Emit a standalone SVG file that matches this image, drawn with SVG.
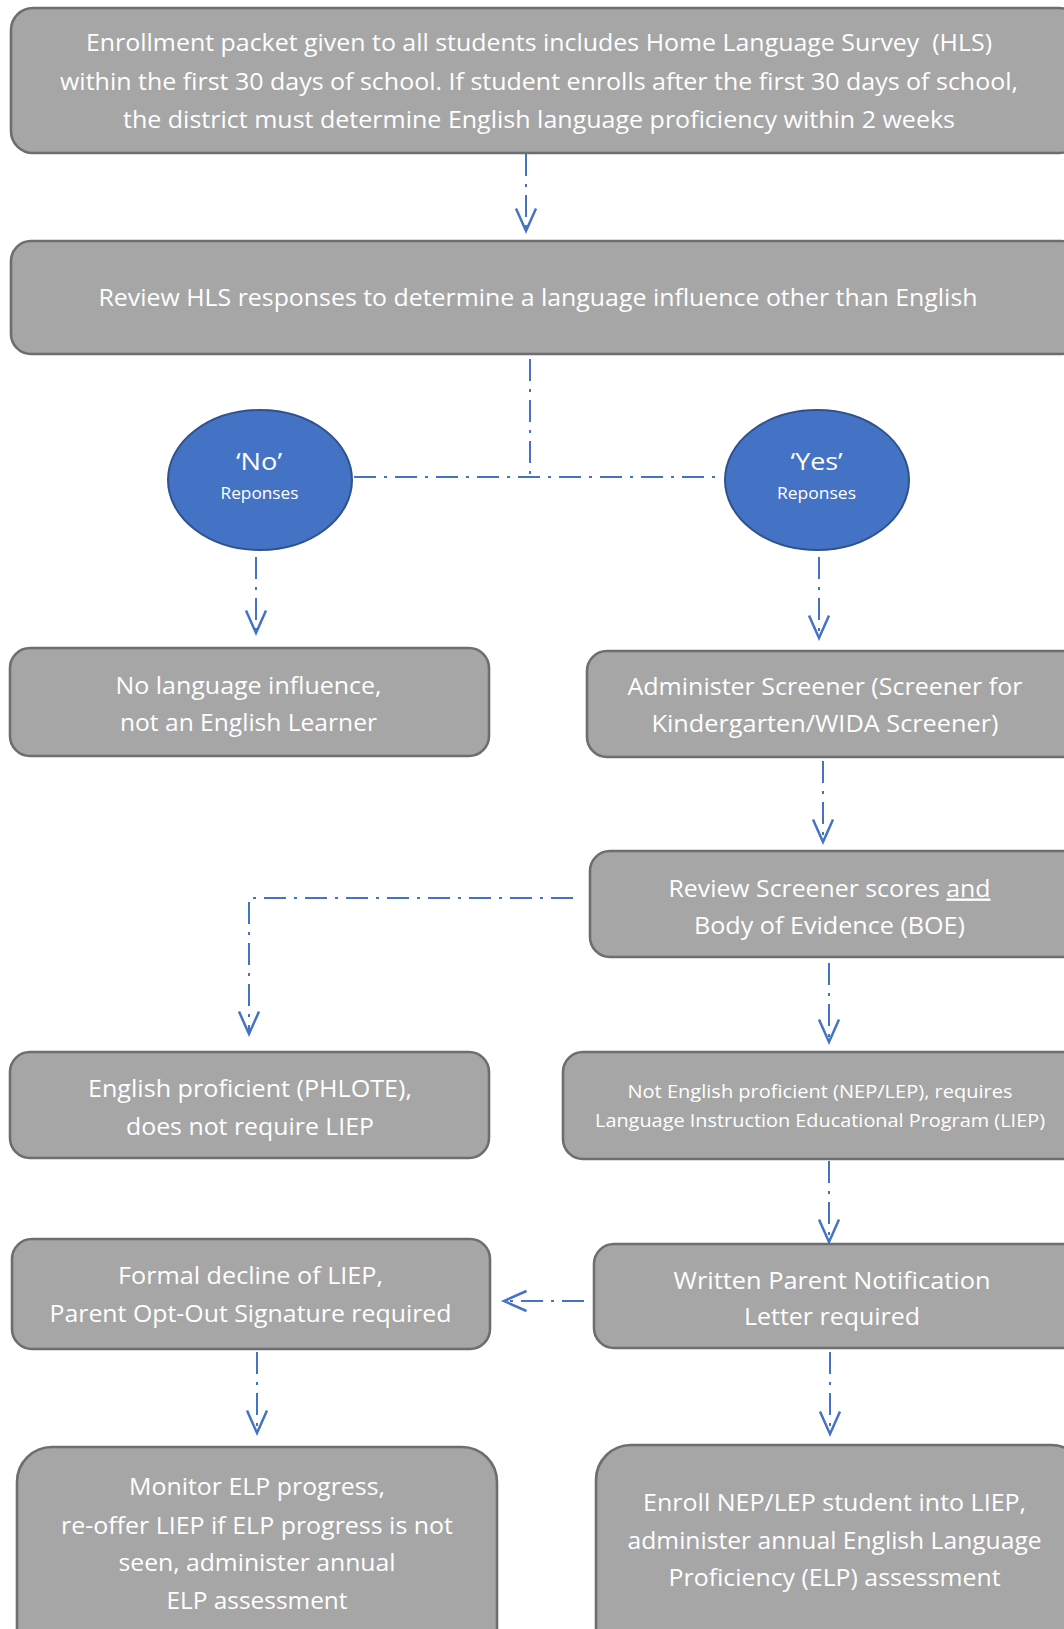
<svg xmlns="http://www.w3.org/2000/svg" width="1064" height="1629" viewBox="0 0 1064 1629">
<style>
.box{fill:#a6a6a6;stroke:#6e6e6e;stroke-width:2.6}
.ell{fill:#4472c4;stroke:#2f528f;stroke-width:2}
.t{font-family:"Open Sans","Liberation Sans",sans-serif;font-size:23.5px;fill:#ffffff;text-anchor:middle}
.s{font-size:19px}
.r{font-size:16.5px}
.c{fill:none;stroke:#4472c4;stroke-width:2;stroke-dasharray:22 8 3 8}
</style>
<defs>
<marker id="ah" markerUnits="userSpaceOnUse" markerWidth="30" markerHeight="30" viewBox="-20 -12 24 24" refX="0" refY="0" orient="auto">
<path d="M-18,-8 L0,0 L-18,8" fill="none" stroke="#4472c4" stroke-width="2"/>
</marker>
</defs>
<g id="connectors">
<path class="c" d="M526,154 V231" marker-end="url(#ah)"/>
<path class="c" d="M530,359 V477"/>
<path class="c" d="M354,477 H722"/>
<path class="c" d="M256,557 V633" marker-end="url(#ah)"/>
<path class="c" d="M819,557 V638" marker-end="url(#ah)"/>
<path class="c" d="M823,761 V842" marker-end="url(#ah)"/>
<path class="c" d="M573,898 H249 V1034" marker-end="url(#ah)"/>
<path class="c" d="M829,963 V1042" marker-end="url(#ah)"/>
<path class="c" d="M829,1161 V1242" marker-end="url(#ah)"/>
<path class="c" d="M584,1301 H504" marker-end="url(#ah)"/>
<path class="c" d="M257,1352 V1433" marker-end="url(#ah)"/>
<path class="c" d="M830,1352 V1434" marker-end="url(#ah)"/>
</g>
<g id="enrollment">
<rect class="box" x="11" y="8" width="1070" height="145" rx="22"/>
<text class="t" x="539" y="51" textLength="906" lengthAdjust="spacingAndGlyphs">Enrollment packet given to all students includes Home Language Survey &#160;(HLS)</text>
<text class="t" x="539" y="89.5" textLength="958" lengthAdjust="spacingAndGlyphs">within the first 30 days of school. If student enrolls after the first 30 days of school,</text>
<text class="t" x="539" y="128" textLength="832" lengthAdjust="spacingAndGlyphs">the district must determine English language proficiency within 2 weeks</text>
</g>
<g id="review-hls">
<rect class="box" x="11" y="241" width="1070" height="113" rx="20"/>
<text class="t" x="538" y="305.5" textLength="879" lengthAdjust="spacingAndGlyphs">Review HLS responses to determine a language influence other than English</text>
</g>
<g id="no-responses">
<ellipse class="ell" cx="260" cy="480" rx="92" ry="70"/>
<text class="t" x="259" y="470" textLength="46" lengthAdjust="spacingAndGlyphs">‘No’</text>
<text class="t r" x="259.5" y="499" textLength="78" lengthAdjust="spacingAndGlyphs">Reponses</text>
</g>
<g id="yes-responses">
<ellipse class="ell" cx="817" cy="480" rx="92" ry="70"/>
<text class="t" x="816.6" y="470" textLength="52" lengthAdjust="spacingAndGlyphs">‘Yes’</text>
<text class="t r" x="816.5" y="499" textLength="79" lengthAdjust="spacingAndGlyphs">Reponses</text>
</g>
<g id="no-influence">
<rect class="box" x="10" y="648" width="479" height="108" rx="20"/>
<text class="t" x="248.5" y="693.5" textLength="266" lengthAdjust="spacingAndGlyphs">No language influence,</text>
<text class="t" x="248.5" y="730.5" textLength="257" lengthAdjust="spacingAndGlyphs">not an English Learner</text>
</g>
<g id="administer-screener">
<rect class="box" x="587" y="651" width="500" height="106" rx="20"/>
<text class="t" x="825" y="695" textLength="395" lengthAdjust="spacingAndGlyphs">Administer Screener (Screener for</text>
<text class="t" x="825" y="731.5" textLength="347" lengthAdjust="spacingAndGlyphs">Kindergarten/WIDA Screener)</text>
</g>
<g id="review-screener">
<rect class="box" x="590" y="851" width="500" height="106" rx="20"/>
<text class="t" x="829.5" y="896.5" textLength="322" lengthAdjust="spacingAndGlyphs">Review Screener scores <tspan text-decoration="underline">and</tspan></text>
<text class="t" x="829.5" y="933.5" textLength="271" lengthAdjust="spacingAndGlyphs">Body of Evidence (BOE)</text>
</g>
<g id="english-proficient">
<rect class="box" x="10" y="1052" width="479" height="106" rx="20"/>
<text class="t" x="250" y="1096.5" textLength="324" lengthAdjust="spacingAndGlyphs">English proficient (PHLOTE),</text>
<text class="t" x="250" y="1134.5" textLength="248" lengthAdjust="spacingAndGlyphs">does not require LIEP</text>
</g>
<g id="not-english-proficient">
<rect class="box" x="563" y="1052" width="520" height="107" rx="20"/>
<text class="t s" x="820" y="1097.5" textLength="385" lengthAdjust="spacingAndGlyphs">Not English proficient (NEP/LEP), requires</text>
<text class="t s" x="820" y="1127" textLength="450" lengthAdjust="spacingAndGlyphs">Language Instruction Educational Program (LIEP)</text>
</g>
<g id="formal-decline">
<rect class="box" x="12" y="1239" width="478" height="110" rx="20"/>
<text class="t" x="250.5" y="1283.5" textLength="265" lengthAdjust="spacingAndGlyphs">Formal decline of LIEP,</text>
<text class="t" x="250.5" y="1321.5" textLength="402" lengthAdjust="spacingAndGlyphs">Parent Opt-Out Signature required</text>
</g>
<g id="parent-notification">
<rect class="box" x="594" y="1244" width="490" height="104" rx="20"/>
<text class="t" x="832" y="1288.5" textLength="317" lengthAdjust="spacingAndGlyphs">Written Parent Notification</text>
<text class="t" x="832" y="1325" textLength="176" lengthAdjust="spacingAndGlyphs">Letter required</text>
</g>
<g id="monitor-elp">
<rect class="box" x="17" y="1447" width="480" height="220" rx="35"/>
<text class="t" x="257" y="1495" textLength="256" lengthAdjust="spacingAndGlyphs">Monitor ELP progress,</text>
<text class="t" x="257" y="1533.5" textLength="392" lengthAdjust="spacingAndGlyphs">re-offer LIEP if ELP progress is not</text>
<text class="t" x="257" y="1571" textLength="277" lengthAdjust="spacingAndGlyphs">seen, administer annual</text>
<text class="t" x="257" y="1608.5" textLength="181" lengthAdjust="spacingAndGlyphs">ELP assessment</text>
</g>
<g id="enroll-liep">
<rect class="box" x="596" y="1445" width="490" height="220" rx="35"/>
<text class="t" x="834.6" y="1511" textLength="383" lengthAdjust="spacingAndGlyphs">Enroll NEP/LEP student into LIEP,</text>
<text class="t" x="834.6" y="1548.5" textLength="414" lengthAdjust="spacingAndGlyphs">administer annual English Language</text>
<text class="t" x="834.6" y="1585.5" textLength="332" lengthAdjust="spacingAndGlyphs">Proficiency (ELP) assessment</text>
</g>
</svg>
